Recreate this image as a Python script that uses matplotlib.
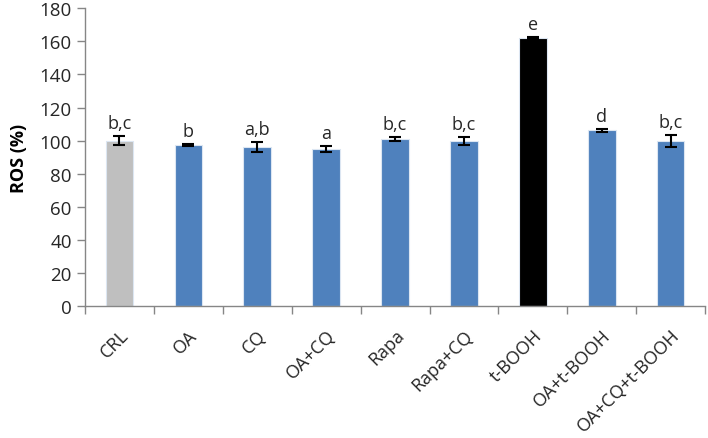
import numpy as np
import matplotlib.pyplot as plt

categories = ['CRL', 'OA', 'CQ', 'OA+CQ', 'Rapa', 'Rapa+CQ', 't-BOOH', 'OA+t-BOOH', 'OA+CQ+t-BOOH']
ros = [100.0, 97.4, 96.2, 94.8, 101.0, 99.8, 162.0, 106.2, 99.6]
err = [2.6, 0.4, 3.0, 1.9, 1.4, 2.4, 0.4, 0.8, 3.6]
letters = ['b,c', 'b', 'a,b', 'a', 'b,c', 'b,c', 'e', 'd', 'b,c']
colors = ['#BFBFBF', '#4F81BD', '#4F81BD', '#4F81BD', '#4F81BD', '#4F81BD', '#000000', '#4F81BD', '#4F81BD']

plt.rcParams['font.family'] = ['Open Sans', 'DejaVu Sans']

fig = plt.figure(figsize=(7.08, 4.39), dpi=100)
ax = fig.add_axes([0.12, 0.30, 0.876, 0.679])

x = np.arange(len(categories))
ax.bar(x, ros, width=0.4, color=colors, edgecolor='#DCE6F2', linewidth=0.8, zorder=2)
ax.errorbar(x, ros, yerr=err, fmt='none', ecolor='black', elinewidth=1.5,
            capsize=4, capthick=1.5, zorder=3)

for xi, v, e, t in zip(x, ros, err, letters):
    ax.annotate(t, (xi, v + e), xytext=(0, 3), textcoords='offset points',
                ha='center', va='bottom', fontsize=13, color='#262626')

ax.set_xlim(-0.5, len(categories) - 0.5)
ax.set_ylim(0, 180)
ax.set_yticks(np.arange(0, 181, 20))
ax.set_xticks(x)
ax.set_xticklabels(categories, rotation=45, ha='right', rotation_mode='anchor',
                   fontsize=13, color='#262626')
ax.set_xticks(np.arange(-0.5, len(categories), 1), minor=True)
ax.tick_params(axis='x', which='major', length=0, pad=14)
ax.tick_params(axis='x', which='minor', length=6, width=1, color='#868686', direction='out')
ax.tick_params(axis='y', length=6, width=1, color='#868686', labelsize=13.5, labelcolor='#262626')

for s in ['top', 'right']:
    ax.spines[s].set_visible(False)
for s in ['left', 'bottom']:
    ax.spines[s].set_color('#868686')
    ax.spines[s].set_linewidth(1)

ax.set_ylabel('ROS (%)', fontsize=13, fontweight='bold', labelpad=8)

fig.savefig('out.png', dpi=100)
